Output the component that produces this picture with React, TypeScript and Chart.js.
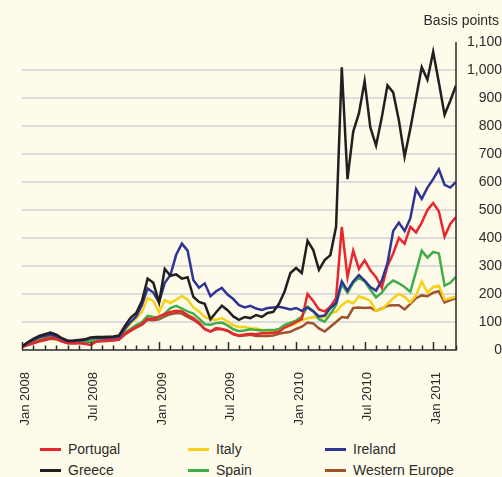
import React, { useEffect, useRef } from "react";
import { Chart, registerables } from "chart.js";

Chart.register(...registerables);

// Half-month steps from Jan 2008 (0) to Mar 2011 (38)
const monthOffsets: number[] = Array.from({ length: 77 }, (_, i) => i / 2);

const xTickLabels = ["Jan 2008", "Jul 2008", "Jan 2009", "Jul 2009", "Jan 2010", "Jul 2010", "Jan 2011"];

const portugal = [10, 18, 25, 32, 38, 44, 42, 32, 25, 24, 24, 22, 18, 30, 33, 35, 36, 38, 58, 70, 82, 92, 112, 110, 120, 128, 136, 140, 138, 125, 114, 98, 75, 66, 78, 75, 70, 58, 52, 55, 58, 56, 60, 60, 62, 65, 80, 89, 100, 110, 200, 175, 145, 138, 155, 185, 440, 260, 355, 290, 320, 285, 260, 222, 300, 345, 400, 380, 440, 420, 455, 500, 525, 495, 405, 450, 475];

const italy = [12, 22, 30, 38, 45, 50, 48, 38, 28, 28, 30, 32, 36, 37, 37, 38, 40, 42, 70, 95, 112, 135, 185, 175, 135, 178, 168, 180, 193, 180, 152, 138, 118, 110, 108, 114, 102, 88, 82, 82, 78, 77, 72, 66, 68, 72, 84, 88, 95, 107, 113, 118, 115, 118, 131, 137, 160, 175, 167, 192, 185, 175, 140, 145, 165, 185, 200, 190, 170, 195, 245, 205, 225, 230, 180, 185, 190];

const ireland = [12, 26, 36, 45, 50, 55, 50, 40, 32, 32, 34, 36, 42, 43, 43, 44, 45, 48, 75, 100, 120, 160, 220, 205, 170, 240, 268, 340, 380, 355, 250, 222, 238, 192, 210, 222, 198, 182, 160, 152, 158, 148, 143, 150, 152, 154, 150, 145, 150, 140, 152, 138, 120, 123, 150, 168, 245, 212, 245, 268, 248, 225, 212, 248, 310, 425, 455, 425, 470, 575, 540, 580, 610, 645, 590, 580, 600];

const greece = [12, 28, 40, 50, 56, 62, 55, 42, 33, 34, 36, 38, 45, 46, 46, 47, 48, 52, 85, 115, 132, 175, 255, 240, 170, 290, 265, 270, 255, 260, 190, 172, 165, 110, 135, 158, 142, 120, 108, 118, 114, 125, 118, 132, 136, 165, 210, 275, 293, 275, 390, 357, 286, 321, 339, 440, 1010, 610, 780, 845, 960, 795, 730, 830, 945, 920, 820, 690, 790, 900, 1010, 965, 1065, 955, 840, 890, 945];

const spain = [12, 20, 28, 35, 40, 46, 44, 34, 25, 25, 27, 30, 32, 34, 35, 36, 38, 40, 62, 75, 89, 100, 122, 118, 114, 130, 150, 158, 148, 138, 130, 112, 92, 90, 96, 98, 88, 74, 67, 70, 74, 71, 70, 71, 71, 75, 90, 98, 105, 120, 155, 140, 110, 101, 128, 160, 235, 205, 240, 258, 245, 215, 188, 205, 232, 248, 238, 225, 208, 280, 355, 330, 350, 345, 230, 240, 262];

const westernEurope = [10, 18, 24, 30, 35, 40, 38, 30, 24, 24, 25, 27, 29, 30, 31, 32, 34, 36, 55, 68, 80, 90, 108, 106, 110, 120, 128, 132, 130, 118, 108, 94, 74, 66, 74, 74, 68, 56, 50, 52, 54, 50, 50, 50, 52, 58, 62, 65, 75, 83, 98, 95, 77, 66, 83, 100, 118, 115, 150, 152, 150, 152, 140, 148, 158, 160, 160, 145, 165, 185, 195, 192, 205, 210, 170, 178, 185];

const seriesNames = ["Portugal", "Italy", "Ireland", "Greece", "Spain", "Western Europe"];
const seriesColors = ["#e8262d", "#f7d117", "#2e3594", "#231f20", "#3fae49", "#a0522d"];
const seriesValues = [portugal, italy, ireland, greece, spain, westernEurope];
const drawOrder = [2, 4, 1, 0, 3, 5];

const BG = "#fffbea";
const FONT = "'Liberation Sans', Arial, Helvetica, sans-serif";
const TEXT = "#2b2b2b";

const axesPlugin = {
  id: "axesTicks",
  afterDatasetsDraw(chart: any) {
    const { ctx, chartArea, scales } = chart;
    const x = scales.x;
    const y = scales.y;
    const y0 = y.getPixelForValue(0);
    const yTop = y.getPixelForValue(1100);
    ctx.save();
    ctx.strokeStyle = TEXT;
    ctx.lineWidth = 1.5;
    ctx.beginPath();
    ctx.moveTo(x.getPixelForValue(0), y0);
    ctx.lineTo(chartArea.right, y0);
    ctx.moveTo(chartArea.right, yTop);
    ctx.lineTo(chartArea.right, y0 + 0.75);
    for (let m = 0; m <= 38; m++) {
      const px = Math.round(x.getPixelForValue(m)) + 0.5;
      const len = m % 6 === 0 ? 8 : 4.5;
      ctx.moveTo(px, y0);
      ctx.lineTo(px, y0 - len);
    }
    ctx.stroke();
    ctx.restore();
  },
};

export default function App() {
  const canvasRef = useRef<HTMLCanvasElement | null>(null);

  useEffect(() => {
    document.body.style.margin = "0";
    document.body.style.background = BG;
    const canvas = canvasRef.current;
    if (!canvas) return;
    const chart = new Chart(canvas, {
      type: "line",
      data: {
        datasets: seriesNames.map((name, k) => ({
          label: name,
          data: monthOffsets.map((m, i) => ({ x: m, y: seriesValues[k][i] })),
          borderColor: seriesColors[k],
          backgroundColor: seriesColors[k],
          borderWidth: 2.5,
          pointRadius: 0,
          tension: 0,
          order: drawOrder[k],
        })),
      },
      options: {
        animation: false,
        responsive: false,
        layout: { padding: { left: 11, right: 0, top: 42, bottom: 0 } },
        plugins: { legend: { display: false }, tooltip: { enabled: false }, title: { display: false } },
        scales: {
          x: {
            type: "linear",
            min: 0,
            max: 38,
            grid: { display: false, drawTicks: false },
            border: { display: false },
            afterFit: (s: any) => {
              s.height = 80;
            },
            ticks: {
              stepSize: 6,
              autoSkip: false,
              minRotation: 90,
              maxRotation: 90,
              padding: 22,
              labelOffset: 3,
              color: TEXT,
              font: { family: FONT, size: 13 },
              callback: (v: any) => {
                const n = Number(v);
                return n % 6 === 0 ? xTickLabels[n / 6] : "";
              },
            },
          },
          y: {
            position: "right",
            min: 0,
            max: 1100,
            border: { display: false },
            grid: {
              drawTicks: false,
              lineWidth: 2,
              color: (c: any) =>
                c.tick && (c.tick.value === 0 || c.tick.value === 1100) ? "rgba(0,0,0,0)" : "#dcdcdc",
            },
            afterFit: (s: any) => {
              s.width = 46;
            },
            ticks: {
              stepSize: 100,
              crossAlign: "far",
              padding: 8,
              color: TEXT,
              font: { family: FONT, size: 14 },
              callback: (v: any) => Number(v).toLocaleString("en-US"),
            },
          },
        },
      },
      plugins: [axesPlugin],
    } as any);
    return () => chart.destroy();
  }, []);

  const legendCols = [40, 188, 325];
  const legendRows = [449, 470];

  return (
    <div style={{ position: "relative", width: 502, height: 477, background: BG, fontFamily: FONT, overflow: "hidden" }}>
      <canvas ref={canvasRef} width={502} height={430} style={{ position: "absolute", left: 0, top: 0 }} />
      <div
        style={{
          position: "absolute",
          right: 3,
          top: 12,
          fontSize: 14,
          lineHeight: "16px",
          color: TEXT,
          whiteSpace: "nowrap",
        }}
      >
        Basis points
      </div>
      {seriesNames.map((name, k) => {
        const col = legendCols[k % 3];
        const row = legendRows[Math.floor(k / 3)];
        return (
          <div key={name} style={{ position: "absolute", left: col, top: row - 8, height: 16, display: "flex", alignItems: "center" }}>
            <span style={{ display: "inline-block", width: 21, height: 3, background: seriesColors[k] }} />
            <span style={{ marginLeft: 7, fontSize: 14, lineHeight: "16px", color: TEXT, whiteSpace: "nowrap" }}>{name}</span>
          </div>
        );
      })}
    </div>
  );
}
